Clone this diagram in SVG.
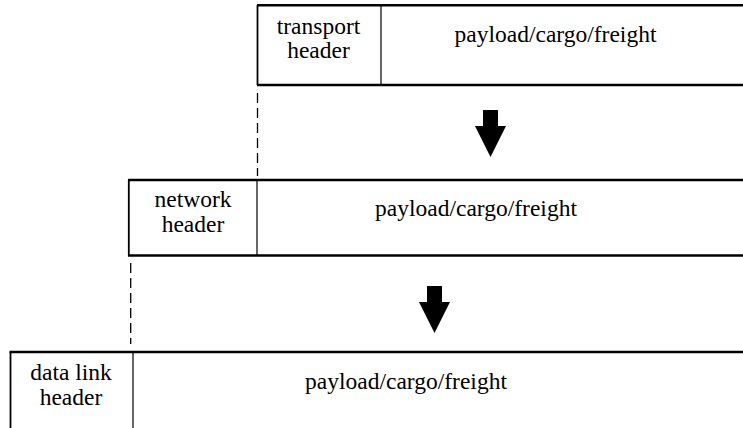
<svg xmlns="http://www.w3.org/2000/svg" width="743" height="428" viewBox="0 0 743 428">
<style>
.h{stroke:#000;stroke-width:2.6;fill:none}
.v{stroke:#000;stroke-width:1.8;fill:none}
.d{stroke:#000;stroke-width:1.2;fill:none}
.dash{stroke:#000;stroke-width:1.3;stroke-dasharray:10 5;fill:none}
text{font-family:"Liberation Serif","Times New Roman",serif;font-size:23.5px;fill:#000;text-anchor:middle}
</style>
<rect width="743" height="428" fill="#fff"/>
<g id="transport-segment">
<line class="h" x1="257" y1="5.3" x2="743" y2="5.3"/>
<line class="h" x1="257" y1="85" x2="743" y2="85"/>
<line class="v" x1="257.5" y1="5" x2="257.5" y2="85"/>
<line class="d" x1="381" y1="5" x2="381" y2="85"/>
<text x="318.5" y="34">transport</text>
<text x="318.5" y="58">header</text>
<text x="555.5" y="42">payload/cargo/freight</text>
</g>
<g id="network-packet">
<line class="h" x1="128" y1="180" x2="743" y2="180"/>
<line class="h" x1="128" y1="255.5" x2="743" y2="255.5"/>
<line class="v" x1="128.8" y1="180" x2="128.8" y2="255.5"/>
<line class="d" x1="257" y1="180" x2="257" y2="255.5"/>
<text x="193" y="207">network</text>
<text x="193" y="232">header</text>
<text x="476" y="216">payload/cargo/freight</text>
</g>
<g id="datalink-frame">
<line class="h" x1="9.5" y1="352" x2="743" y2="352"/>
<line class="v" x1="10.5" y1="352" x2="10.5" y2="428"/>
<line class="d" x1="133" y1="352" x2="133" y2="428"/>
<text x="71" y="380">data link</text>
<text x="71" y="405">header</text>
<text x="406" y="389">payload/cargo/freight</text>
</g>
<g id="connectors">
<line class="dash" x1="257.5" y1="93" x2="257.5" y2="176"/>
<line class="dash" x1="130.7" y1="263" x2="130.7" y2="344"/>
<polygon points="483,110 498,110 498,126 506,126 490.5,157 475,126 483,126" fill="#000"/>
<polygon points="427,286 442,286 442,302 450,302 434.5,333 419,302 427,302" fill="#000"/>
</g>
</svg>
